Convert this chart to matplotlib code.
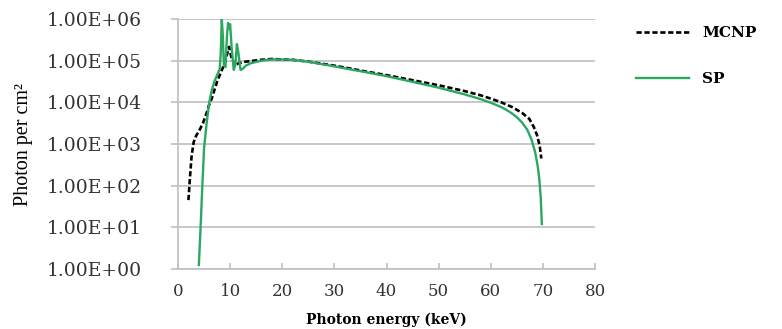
import numpy as np
import matplotlib.pyplot as plt
from matplotlib.ticker import FixedLocator, FuncFormatter, NullLocator

# MCNP spectrum (photon energy in keV, photons per cm2)
mcnp_e = [2.0, 2.3, 2.6, 3.0, 3.5, 4.0, 4.8, 5.5, 6.0, 6.5, 7.0, 7.5, 8.0, 8.5,
          9.0, 9.5, 9.8, 10.2, 10.9, 11.5, 12.5, 14, 16, 18, 20, 22, 25, 28, 30,
          33, 36, 40, 45, 50, 55, 58, 60, 62, 64, 66, 67.4, 68.3, 68.9, 69.4, 69.7]
mcnp_v = [45, 160, 500, 1100, 1600, 2000, 3200, 5600, 8900, 12600, 20000, 31600,
          44700, 63000, 89000, 158000, 214000, 126000, 76000, 85000, 93000, 98000,
          105000, 110000, 107000, 105000, 95000, 83000, 76000, 65000, 55000, 45000,
          34000, 25700, 18600, 14800, 12300, 10000, 7800, 5600, 4000, 2500, 1600,
          890, 450]

# SP spectrum
sp_e = [4.0, 4.3, 4.6, 5.0, 5.5, 6.0, 6.5, 7.0, 7.5, 8.0, 8.2, 8.4, 8.6, 8.8,
        9.1, 9.4, 9.6, 9.8, 10.0, 10.3, 10.7, 11.0, 11.3, 11.6, 12.0, 12.5, 13,
        14, 16, 18, 20, 22, 25, 28, 30, 33, 36, 40, 45, 50, 52, 55, 58, 60, 62,
        63, 64, 65, 66, 67, 67.8, 68.5, 69.0, 69.3, 69.6, 69.8]
sp_v = [1.25, 8, 63, 800, 3200, 10000, 20000, 32000, 45000, 63000, 150000,
        1000000, 400000, 80000, 70000, 400000, 800000, 600000, 750000, 200000,
        60000, 80000, 250000, 150000, 60000, 65000, 76000, 87000, 100000, 107000,
        107000, 105000, 94000, 81000, 73000, 62000, 53000, 42500, 31000, 22500,
        19300, 15500, 12000, 9800, 7700, 6600, 5500, 4400, 3300, 2200, 1300, 650,
        300, 150, 50, 12]

x_ticks = [0, 10, 20, 30, 40, 50, 60, 70, 80]
y_ticks = [1e0, 1e1, 1e2, 1e3, 1e4, 1e5, 1e6]

grid_col = '#bfbfbf'
green = '#2aa862'

fig = plt.figure(figsize=(7.82, 3.29), dpi=100)
ax = fig.add_axes([178 / 782, 1 - 269 / 329, (595 - 178) / 782, 250 / 329])

ax.plot(mcnp_e, mcnp_v, color='black', lw=1.9, ls=(0, (2, 1)), label='MCNP', zorder=3)
ax.plot(sp_e, sp_v, color=green, lw=1.7, label='SP', zorder=4)

ax.set_yscale('log')
ax.set_xlim(0, 80)
ax.set_ylim(1, 1e6)
ax.xaxis.set_major_locator(FixedLocator(x_ticks))
ax.yaxis.set_major_locator(FixedLocator(y_ticks))
ax.yaxis.set_minor_locator(NullLocator())
ax.yaxis.set_major_formatter(FuncFormatter(lambda v, p: '{:.2E}'.format(v)))
ax.grid(axis='y', color=grid_col, lw=1.2)
ax.set_axisbelow(True)

for s in ['top', 'right']:
    ax.spines[s].set_visible(False)
for s in ['left', 'bottom']:
    ax.spines[s].set_color(grid_col)
    ax.spines[s].set_linewidth(1.2)

ax.tick_params(axis='y', direction='out', length=5, width=1.2, color=grid_col,
               pad=21, labelsize=13.5, labelcolor='#333333')
ax.tick_params(axis='x', direction='in', length=4, width=1.2, color=grid_col,
               pad=10, labelsize=12, labelcolor='#333333')
for lab in ax.get_xticklabels() + ax.get_yticklabels():
    lab.set_family('DejaVu Serif')

ax.set_xlabel('Photon energy (keV)', family='DejaVu Serif', fontweight='bold',
              fontsize=10, labelpad=9)
ax.set_ylabel('Photon per cm²', family='Liberation Serif', fontsize=14.5)
ax.yaxis.set_label_coords(-0.348, 0.5)

leg = ax.legend(loc='upper left', bbox_to_anchor=(636 / 782, 1 - 26 / 329),
                bbox_transform=fig.transFigure, frameon=False, borderpad=0,
                borderaxespad=0, handlelength=3.5, handletextpad=0.85,
                labelspacing=2.1, prop={'family': 'DejaVu Serif', 'weight': 'bold',
                                        'size': 11})

fig.savefig('out.png', dpi=100)
